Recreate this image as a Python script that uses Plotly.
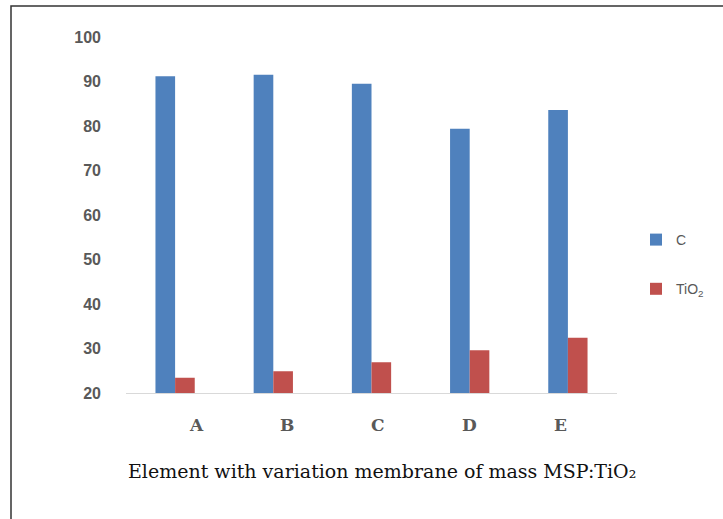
import plotly.graph_objects as go

categories = ["A", "B", "C", "D", "E"]
c_values = [91.2, 91.5, 89.5, 79.4, 83.6]
tio2_values = [23.4, 24.9, 26.9, 29.6, 32.4]
y_ticks = [20, 30, 40, 50, 60, 70, 80, 90, 100]

W, H = 723, 519
L, R, T, B = 126, 106, 37, 126
pw, ph = W - L - R, H - T - B

def px_x(x):
    return (x - L) / pw

def px_y(y):
    return (H - B - y) / ph

fig = go.Figure()
fig.add_trace(go.Bar(x=categories, y=c_values, name="C",
                     marker=dict(color="#4F81BD", line=dict(width=0)),
                     legendgroup="c"))
fig.add_trace(go.Bar(x=categories, y=tio2_values, name="TiO<sub>2</sub>",
                     marker=dict(color="#C0504D", line=dict(width=0)),
                     legendgroup="t"))

# category labels are drawn slightly offset from the bar groups in the reference
label_left, label_step = 196, 91.2
annotations = [dict(text=c, x=px_x(label_left + i * label_step), y=px_y(425),
                    xref="paper", yref="paper", xanchor="center", yanchor="middle",
                    showarrow=False,
                    font=dict(family="DejaVu Serif", size=17, color="#595959",
                              weight="bold"))
               for i, c in enumerate(categories)]
annotations.append(dict(text="Element with variation membrane of mass MSP:TiO\u2082",
                        x=px_x(382), y=px_y(471), xref="paper", yref="paper",
                        xanchor="center", yanchor="middle", showarrow=False,
                        font=dict(family="DejaVu Serif", size=19, color="#111111")))

fig.update_layout(
    width=W, height=H,
    margin=dict(l=L, r=R, t=T, b=B),
    paper_bgcolor="white", plot_bgcolor="white",
    barmode="group", bargap=0.6, bargroupgap=0,
    showlegend=True,
    legend=dict(x=px_x(636), y=px_y(224), xanchor="left", yanchor="top",
                traceorder="grouped", tracegroupgap=28,
                font=dict(family="Liberation Sans", size=14, color="#595959"),
                bgcolor="rgba(0,0,0,0)"),
    xaxis=dict(showline=True, linecolor="#D9D9D9", linewidth=1,
               showgrid=False, ticks="", showticklabels=False),
    yaxis=dict(range=[20, 100], tickvals=y_ticks, showgrid=False,
               zeroline=False, showline=False, ticks="",
               tickfont=dict(family="Liberation Sans", size=16, color="#595959",
                             weight="bold"),
               ticklabelstandoff=24),
    annotations=annotations,
    shapes=[dict(type="rect", xref="paper", yref="paper",
                 x0=px_x(11), y0=px_y(H + 20), x1=px_x(W + 20), y1=px_y(6),
                 line=dict(color="#333333", width=1.5))],
)

fig.write_html("out.html", config={"displayModeBar": False},
               post_script="document.body.style.margin='0';document.body.style.overflow='hidden';")
